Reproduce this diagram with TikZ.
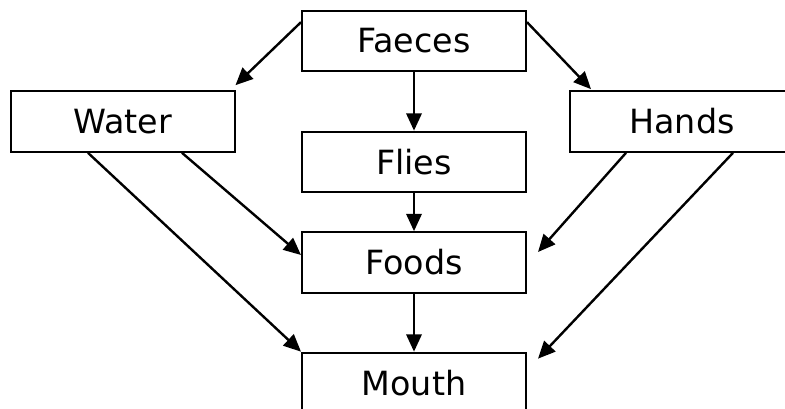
\documentclass[tikz,border=0pt]{standalone}
\usepackage{fontspec}
\setmainfont{DejaVu Sans}
\usetikzlibrary{arrows.meta,calc}
\begin{document}
\begin{tikzpicture}[x=0.75pt,y=-0.75pt,
  box/.style={draw,line width=1.5pt,minimum width=168pt,minimum height=45.5pt,inner sep=0pt,font=\fontsize{25}{28}\selectfont},
  arr/.style={line width=1.8pt,-{Triangle[length=13pt,width=11.5pt]}},
  ln/.style={line width=1.8pt}]
\clip (0,0) rectangle (785,409);
\fill[white] (0,0) rectangle (785,409);
\node[box] (faeces) at (414,41) {Faeces};
\node[box] (water) at (122.5,121.5) {Water};
\node[box] (hands) at (682,121.5) {Hands};
\node[box] (flies) at (414,162) {Flies};
\node[box] (foods) at (414,262.5) {Foods};
\node[box] (mouth) at (414,383) {Mouth};
\draw[arr] ($(faeces.north west)+(0,12.5)$) -- ($(water.north east)+(0,-5)$);
\draw[arr] ($(faeces.north east)+(0,12.5)$) -- ($(hands.north west)+(22,-1)$);
\draw[arr] (faeces) -- (flies);
\draw[arr] (flies) -- (foods);
\draw[arr] (foods) -- (mouth);
\draw[arr] ($(water.south)+(59.5,0)$) -- ($(foods.west)+(0,-7.5)$);
\draw[arr] ($(water.south)+(-34.5,0)$) -- (mouth.north west);
\draw[arr] ($(hands.south)+(-56,0)$) -- ($(foods.east)+(11,-10.5)$);
\draw[arr] ($(hands.south)+(51,0)$) -- ($(mouth.north east)+(11,7)$);
\end{tikzpicture}
\end{document}
